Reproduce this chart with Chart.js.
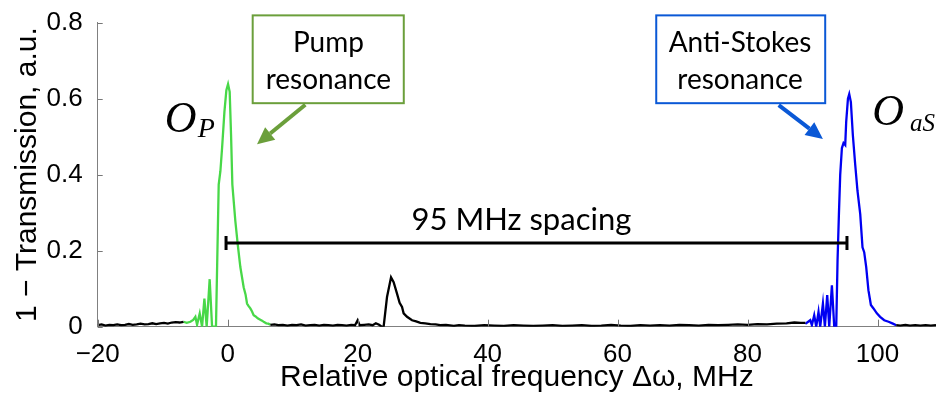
<!DOCTYPE html>
<html><head><meta charset="utf-8">
<script src="https://cdn.jsdelivr.net/npm/chart.js@4/dist/chart.umd.min.js"></script>
<style>html,body{margin:0;padding:0;background:#fff}</style>
</head><body>
<canvas id="c" width="936" height="398"></canvas>
<script>
// ---------- data ----------
const xTickValues = [-20, 0, 20, 40, 60, 80, 100];
const xTickLabels = ['\u221220', '0', '20', '40', '60', '80', '100'];
const yTickValues = [0, 0.2, 0.4, 0.6, 0.8];
const yTickLabels = ['0', '0.2', '0.4', '0.6', '0.8'];

// black background trace (three pieces)
const blackLeftX = [-20,-19.4,-18.8,-18.2,-17.6,-17,-16.4,-15.8,-15.2,-14.6,-14,-13.4,-12.8,-12.2,-11.6,-11,-10.4,-9.8,-9.2,-8.6,-8,-7.4,-6.8];
const blackLeftY = [0.004,0.006,0.003,0.005,0.004,0.006,0.004,0.005,0.007,0.005,0.006,0.008,0.006,0.007,0.009,0.007,0.009,0.010,0.008,0.011,0.012,0.011,0.013];

const blackMidX = [6.57,7.2,7.8,8.5,9.2,9.9,10.6,11.3,12,12.7,13.4,14.1,14.8,15.5,16.2,16.9,17.6,18.3,19,19.6,20,20.3,21,21.7,22.3,22.8,23.3,23.7,24.0,24.52,25.14,25.54,26.06,26.46,26.83,27.08,27.6,28.37,29.0,29.65,30.4,31.2,32.0,32.7,33.6,34.8,
  35.6,36.5,38,39.5,41,42.5,44,45.5,47,48.5,50,51.5,53,54.5,56,57.5,59,60.5,62,63.5,65,66.5,68,69.5,71,72.5,74,75.5,77,78.5,80,81.5,83,84.5,86,87.2,88.2,88.9];
const blackMidY = [0.005,0.006,0.004,0.005,0.003,0.005,0.004,0.006,0.003,0.004,0.005,0.003,0.005,0.004,0.003,0.005,0.004,0.003,0.005,0.004,0.017,0.004,0.005,0.006,0.004,0.009,0.005,0.0,0.0,0.078,0.130,0.117,0.087,0.063,0.052,0.035,0.026,0.017,0.014,0.010,0.009,0.007,0.006,0.004,0.005,0.002,
  0.004,0.003,0.002,0.004,0.003,0.002,0.004,0.003,0.002,0.003,0.004,0.002,0.003,0.004,0.002,0.003,0.005,0.003,0.002,0.004,0.003,0.004,0.003,0.005,0.004,0.003,0.005,0.004,0.005,0.006,0.005,0.007,0.006,0.008,0.009,0.011,0.010,0.010];

const blackRightX = [102.88,103.5,104.3,105,105.8,106.6,107.4,108.2,109];
const blackRightY = [0.004,0.003,0.005,0.003,0.004,0.003,0.004,0.003,0.004];

// pump resonance O_P (green)
const pumpX = [-6.8,-6.3,-5.74,-5.3,-4.97,-4.71,-4.3,-3.94,-3.58,-3.23,-2.77,-2.4,-2.05,-1.8,-1.38,-1.12,-0.86,-0.5,-0.2,0.06,0.31,0.52,0.72,1.18,1.54,1.95,2.46,2.75,2.98,3.2,3.49,3.75,4.0,4.3,4.62,4.95,5.29,5.6,5.95,6.25,6.57];
const pumpY = [0.013,0.010,0.013,0.018,0.026,0.005,0.035,0.0,0.074,0.0,0.125,0.0,0.0,0.0,0.374,0.409,0.47,0.565,0.622,0.638,0.618,0.505,0.374,0.278,0.218,0.157,0.104,0.085,0.061,0.055,0.048,0.040,0.030,0.027,0.022,0.019,0.016,0.012,0.009,0.008,0.005];

// anti-Stokes resonance O_aS (blue)
const asX = [88.9,89.03,89.65,89.9,90.26,90.57,90.92,91.18,91.6,91.9,92.26,92.57,92.98,93.34,93.65,93.85,94.06,94.26,94.52,94.77,95.03,95.18,95.45,95.65,95.9,96.2,96.57,96.92,97.34,97.69,97.95,98.26,98.6,98.98,99.38,99.9,100.4,101.03,101.7,102.37,102.88];
const asY = [0.010,0.009,0.017,0.004,0.030,0.0,0.039,0.0,0.061,0.0,0.083,0.0,0.109,0.0,0.0,0.174,0.296,0.40,0.47,0.483,0.478,0.539,0.60,0.612,0.591,0.505,0.426,0.357,0.296,0.209,0.196,0.157,0.096,0.057,0.048,0.035,0.026,0.017,0.013,0.008,0.004];

// annotation anchors in data units
const spacing = {from: -0.25, to: 95.3, level: 0.22, text: '95 MHz spacing', textX: 45.2, textY: 0.255};
const boxes = [
  {x0: 3.85, x1: 27.1, y0: 0.588, y1: 0.819, color: '#6b9f3b', lines: ['Pump', 'resonance'], cx: 15.5, base: [0.722, 0.6254],
   arrow: {x0: 11.95, y0: 0.584, x1: 4.52, y1: 0.48}},
  {x0: 65.95, x1: 91.95, y0: 0.588, y1: 0.819, color: '#0a58d6', lines: ['Anti-Stokes', 'resonance'], cx: 78.85, base: [0.722, 0.6254],
   arrow: {x0: 84.8, y0: 0.583, x1: 91.6, y1: 0.494}}
];
const modeLabels = [
  {main: 'O', sub: 'P', x: -9.7, y: 0.513, subX: -4.6, subY: 0.500, subSize: 28},
  {main: 'O', sub: 'aS', x: 99.2, y: 0.530, subX: 105.0, subY: 0.516, subSize: 25}
];

const pts = (xs, ys) => xs.map((x, i) => ({x, y: ys[i]}));

const annot = {
  id: 'annot',
  afterDraw(chart) {
    const {ctx, scales: {x, y}} = chart;
    ctx.save();
    // inward tick marks
    ctx.strokeStyle = '#777'; ctx.lineWidth = 1;
    xTickValues.forEach(v => {
      const px = Math.round(x.getPixelForValue(v)) + 0.5;
      ctx.beginPath(); ctx.moveTo(px, y.bottom); ctx.lineTo(px, y.bottom - 7); ctx.stroke();
    });
    yTickValues.forEach(v => {
      const py = Math.round(y.getPixelForValue(v)) + 0.5;
      ctx.beginPath(); ctx.moveTo(x.left, py); ctx.lineTo(x.left + 5, py); ctx.stroke();
    });
    // spacing bar
    const bx0 = x.getPixelForValue(spacing.from), bx1 = x.getPixelForValue(spacing.to), by = y.getPixelForValue(spacing.level);
    ctx.strokeStyle = '#000'; ctx.lineWidth = 3;
    ctx.beginPath(); ctx.moveTo(bx0, by); ctx.lineTo(bx1, by);
    ctx.moveTo(bx0, by - 7); ctx.lineTo(bx0, by + 7);
    ctx.moveTo(bx1, by - 7); ctx.lineTo(bx1, by + 7); ctx.stroke();
    ctx.fillStyle = '#000'; ctx.font = '31px Lato'; ctx.textAlign = 'center'; ctx.textBaseline = 'alphabetic';
    ctx.fillText(spacing.text, x.getPixelForValue(spacing.textX), y.getPixelForValue(spacing.textY));
    // boxes + arrows
    boxes.forEach(b => {
      const l = x.getPixelForValue(b.x0), r = x.getPixelForValue(b.x1);
      const t = y.getPixelForValue(b.y1), btm = y.getPixelForValue(b.y0);
      ctx.fillStyle = '#fff'; ctx.fillRect(l, t, r - l, btm - t);
      ctx.strokeStyle = b.color; ctx.lineWidth = 2; ctx.strokeRect(l, t, r - l, btm - t);
      ctx.fillStyle = '#000'; ctx.font = '28px Lato'; ctx.textAlign = 'center';
      b.lines.forEach((s, i) => ctx.fillText(s, x.getPixelForValue(b.cx), y.getPixelForValue(b.base[i])));
      const ax0 = x.getPixelForValue(b.arrow.x0), ay0 = y.getPixelForValue(b.arrow.y0);
      const ax1 = x.getPixelForValue(b.arrow.x1), ay1 = y.getPixelForValue(b.arrow.y1);
      const ang = Math.atan2(ay1 - ay0, ax1 - ax0), head = 17, half = 8;
      const hx = ax1 - head * Math.cos(ang), hy = ay1 - head * Math.sin(ang);
      ctx.strokeStyle = b.color; ctx.fillStyle = b.color; ctx.lineWidth = 4;
      ctx.beginPath(); ctx.moveTo(ax0, ay0); ctx.lineTo(hx, hy); ctx.stroke();
      ctx.beginPath(); ctx.moveTo(ax1, ay1);
      ctx.lineTo(hx + half * Math.sin(ang), hy - half * Math.cos(ang));
      ctx.lineTo(hx - half * Math.sin(ang), hy + half * Math.cos(ang));
      ctx.closePath(); ctx.fill();
    });
    // O_P and O_aS labels
    ctx.fillStyle = '#000'; ctx.textAlign = 'left';
    modeLabels.forEach(m => {
      ctx.font = 'italic 44px "Liberation Serif"';
      ctx.fillText(m.main, x.getPixelForValue(m.x), y.getPixelForValue(m.y));
      ctx.font = 'italic ' + m.subSize + 'px "Liberation Serif"';
      ctx.fillText(m.sub, x.getPixelForValue(m.subX), y.getPixelForValue(m.subY));
    });
    ctx.restore();
  }
};

const lineDs = (data, color) => ({data, borderColor: color, borderWidth: 2.3, pointRadius: 0, tension: 0, fill: false});

new Chart(document.getElementById('c'), {
  type: 'line',
  data: {datasets: [
    lineDs(pts(blackLeftX, blackLeftY), '#000'),
    lineDs(pts(blackMidX, blackMidY), '#000'),
    lineDs(pts(blackRightX, blackRightY), '#000'),
    lineDs(pts(pumpX, pumpY), '#48d848'),
    lineDs(pts(asX, asY), '#0000f2')
  ]},
  options: {
    responsive: false, animation: false, devicePixelRatio: 1,
    layout: {padding: {top: 20, right: 0, bottom: 0, left: 0}},
    plugins: {legend: {display: false}, tooltip: {enabled: false}},
    scales: {
      x: {
        type: 'linear', min: -20, max: 109,
        grid: {display: false}, border: {display: true, color: '#808080', width: 1},
        afterBuildTicks: s => { s.ticks = xTickValues.map(v => ({value: v})); },
        afterFit: s => { s.height = 71.3; },
        ticks: {color: '#000', font: {family: 'Liberation Sans', size: 26}, padding: 5, maxRotation: 0,
          callback: v => xTickLabels[xTickValues.indexOf(v)]},
        title: {display: true, text: 'Relative optical frequency \u0394\u03c9, MHz', color: '#000',
          font: {family: 'Liberation Sans', size: 30}, padding: {top: 0, bottom: 2}}
      },
      y: {
        min: 0, max: 0.8,
        grid: {display: false}, border: {display: true, color: '#808080', width: 1},
        afterBuildTicks: s => { s.ticks = yTickValues.map(v => ({value: v})); },
        afterFit: s => { s.width = 97.7; },
        ticks: {color: '#000', font: {family: 'Liberation Sans', size: 26}, padding: 7,
          callback: v => yTickLabels[yTickValues.indexOf(v)]},
        title: {display: true, text: '1 \u2212 Transmission, a.u.', color: '#000',
          font: {family: 'Liberation Sans', size: 30}, padding: {top: 10, bottom: 0}}
      }
    }
  },
  plugins: [annot]
});
</script>
</body></html>
